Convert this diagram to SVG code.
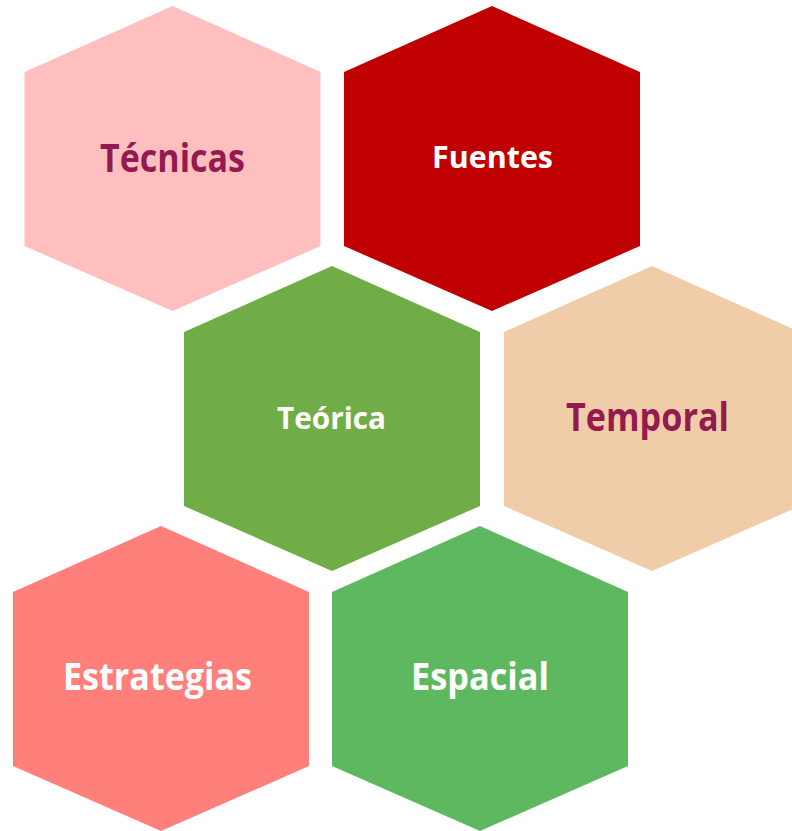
<svg xmlns="http://www.w3.org/2000/svg" width="792" height="831" viewBox="0 0 792 831">
<style>
.lbl{font-family:"Open Sans","Noto Sans","Liberation Sans",sans-serif;font-weight:bold;text-anchor:middle}
.big{font-size:39px}
.mid{font-size:37px}
.small{font-size:30px}
.w{fill:#FFFFFF}
.m{fill:#951A4F}
</style>
<defs>
<polygon id="hex" points="0,0 148,66 148,240 0,305 -148,240 -148,66"/>
</defs>
<rect width="792" height="831" fill="#FFFFFF"/>
<g id="tecnicas">
<use href="#hex" x="172.5" y="6" fill="#FFBFBF"/>
<text class="lbl big m" x="172.5" y="172" textLength="145" lengthAdjust="spacingAndGlyphs">Técnicas</text>
</g>
<g id="fuentes">
<use href="#hex" x="492" y="6" fill="#C00000"/>
<text class="lbl small w" x="492.5" y="167.5" textLength="121" lengthAdjust="spacingAndGlyphs">Fuentes</text>
</g>
<g id="teorica">
<use href="#hex" x="332" y="266" fill="#70AD47"/>
<text class="lbl small w" x="331.5" y="429" textLength="109" lengthAdjust="spacingAndGlyphs">Teórica</text>
</g>
<g id="temporal">
<use href="#hex" x="652" y="266" fill="#F0CDA8"/>
<text class="lbl big m" x="647.5" y="431" textLength="163" lengthAdjust="spacingAndGlyphs">Temporal</text>
</g>
<g id="estrategias">
<use href="#hex" x="161" y="526" fill="#FF7F7A"/>
<text class="lbl mid w" x="157.5" y="690" textLength="189" lengthAdjust="spacingAndGlyphs">Estrategias</text>
</g>
<g id="espacial">
<use href="#hex" x="480" y="526" fill="#5DB85F"/>
<text class="lbl mid w" x="480" y="690" textLength="138" lengthAdjust="spacingAndGlyphs">Espacial</text>
</g>
<g id="connectors"/>
</svg>
